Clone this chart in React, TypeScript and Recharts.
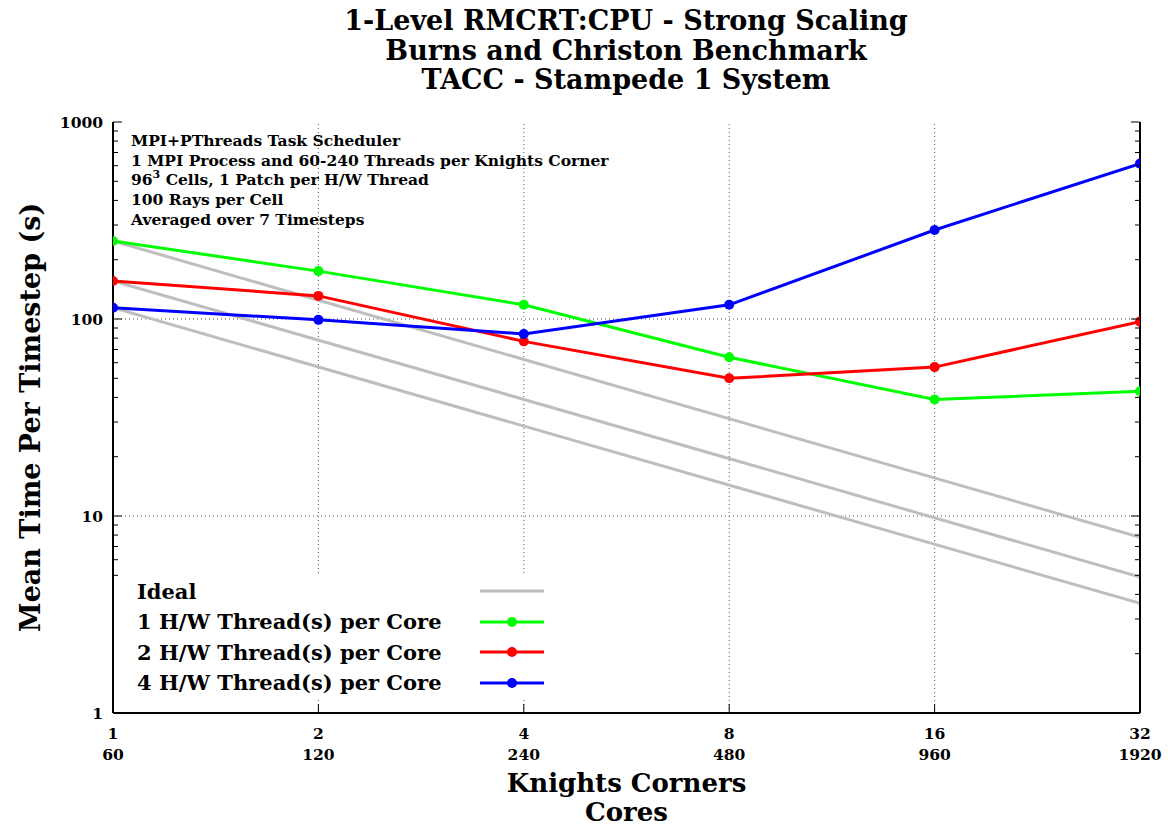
import { LineChart, Line, XAxis, YAxis, ReferenceLine, Legend } from "recharts";

const knights = [1, 2, 4, 8, 16, 32];
const cores = [60, 120, 240, 480, 960, 1920];
const oneThread = [249, 175, 118, 64, 39, 43];
const twoThreads = [156, 131, 77, 50, 57, 97];
const fourThreads = [114, 99, 84, 118, 283, 615];

// ideal scaling lines, read at both ends
const idealEnds = [1, 32];
const idealOne = [249, 7.8];
const idealTwo = [156, 4.9];
const idealFour = [114, 3.6];

const yMajor = [1, 10, 100, 1000];
const yTicks = [
  1, 2, 3, 4, 5, 6, 7, 8, 9, 10, 20, 30, 40, 50, 60, 70, 80, 90, 100, 200,
  300, 400, 500, 600, 700, 800, 900, 1000,
];
const gridX = [2, 4, 8, 16];
const gridY = [10, 100];
const legendOrder = [
  "Ideal",
  "1 H/W Thread(s) per Core",
  "2 H/W Thread(s) per Core",
  "4 H/W Thread(s) per Core",
];

const FONT = "'DejaVu Serif', serif";

const rows = knights.map((k, i) => ({
  k,
  one: oneThread[i],
  two: twoThreads[i],
  four: fourThreads[i],
}));
const ideal = (vals: number[]) => idealEnds.map((k, i) => ({ k, v: vals[i] }));

const LeftTick = (p: any) => {
  const v = p.payload.value;
  const major = yMajor.includes(v);
  const ax = p.x + 10;
  return (
    <g>
      <line x1={ax} x2={ax + (major ? 9 : 5)} y1={p.y} y2={p.y} stroke="#000" />
      {major && (
        <text x={p.x} y={p.y + 6} textAnchor="end" fontFamily={FONT} fontWeight="bold" fontSize={15.5} fill="#000">
          {v}
        </text>
      )}
    </g>
  );
};

const RightTick = (p: any) => {
  const major = yMajor.includes(p.payload.value);
  return <line x1={p.x} x2={p.x - (major ? 9 : 5)} y1={p.y} y2={p.y} stroke="#000" />;
};

const BottomTick = (p: any) => {
  const v = p.payload.value;
  return (
    <g>
      <line x1={p.x} x2={p.x} y1={p.y} y2={p.y - 9} stroke="#000" />
      <text x={p.x} textAnchor="middle" fontFamily={FONT} fontWeight="bold" fontSize={15.5} fill="#000">
        <tspan x={p.x} y={p.y + 26}>{v}</tspan>
        <tspan x={p.x} y={p.y + 47}>{cores[knights.indexOf(v)]}</tspan>
      </text>
    </g>
  );
};

const TopTick = (p: any) => <line x1={p.x} x2={p.x} y1={p.y} y2={p.y + 9} stroke="#000" />;

const YTitle = (p: any) => {
  const { x, y, height } = p.viewBox;
  const cx = x + 30;
  const cy = y + height / 2;
  return (
    <text x={cx} y={cy} transform={`rotate(-90 ${cx} ${cy})`} textAnchor="middle" dominantBaseline="central" fontFamily={FONT} fontWeight="bold" fontSize={27} fill="#000">
      Mean Time Per Timestep (s)
    </text>
  );
};

const XTitle = (p: any) => {
  const { x, y, width } = p.viewBox;
  const cx = x + width / 2;
  return (
    <text textAnchor="middle" fontFamily={FONT} fontWeight="bold" fontSize={26} fill="#000">
      <tspan x={cx} y={y + 79}>Knights Corners</tspan>
      <tspan x={cx} y={y + 108}>Cores</tspan>
    </text>
  );
};

const LegendBox = (props: any) => {
  const items = legendOrder
    .map((n) => (props.payload || []).find((e: any) => e.value === n))
    .filter(Boolean);
  return (
    <div style={{ background: "#fff", width: 440, fontFamily: FONT, fontWeight: "bold", fontSize: 21 }}>
      {items.map((e: any) => (
        <div key={e.value} style={{ height: 30.5, display: "flex", alignItems: "center", position: "relative" }}>
          <span style={{ marginLeft: 23 }}>{e.value}</span>
          <svg width={64} height={14} style={{ position: "absolute", left: 366, top: 8 }}>
            <line x1={0} x2={64} y1={7} y2={7} stroke={e.color} strokeWidth={3} />
            {e.value !== "Ideal" && <circle cx={32} cy={7} r={5} fill={e.color} />}
          </svg>
        </div>
      ))}
    </div>
  );
};

export default function App() {
  return (
    <div style={{ position: "absolute", left: 0, top: 0, width: 1168, height: 826, background: "#fff" }}>
      <div style={{ position: "absolute", left: 276, width: 700, top: 6, textAlign: "center", fontFamily: FONT, fontWeight: "bold", fontSize: 27, lineHeight: "29.5px" }}>
        <div>1-Level RMCRT:CPU - Strong Scaling</div>
        <div>Burns and Christon Benchmark</div>
        <div>TACC - Stampede 1 System</div>
      </div>
      <LineChart width={1168} height={826} data={rows} margin={{ top: 122, right: 0, bottom: 0, left: 0 }}>
        {gridY.map((v) => (
          <ReferenceLine key={"gy" + v} yAxisId="left" y={v} stroke="#555" strokeDasharray="1 3" />
        ))}
        {gridX.map((v) => (
          <ReferenceLine key={"gx" + v} yAxisId="left" x={v} stroke="#555" strokeDasharray="1 3" />
        ))}
        <XAxis dataKey="k" type="number" scale="log" domain={[1, 32]} ticks={knights} height={113} tickSize={0} tickMargin={0} tickLine={false} tick={BottomTick} axisLine={{ stroke: "#000", strokeWidth: 2 }} allowDataOverflow label={XTitle} />
        <XAxis xAxisId="top" orientation="top" dataKey="k" type="number" scale="log" domain={[1, 32]} ticks={knights} height={0} tickSize={0} tickMargin={0} tickLine={false} tick={TopTick} axisLine={{ stroke: "#000", strokeWidth: 2 }} allowDataOverflow />
        <YAxis yAxisId="left" type="number" scale="log" domain={[1, 1000]} ticks={yTicks} width={113} tickSize={0} tickMargin={10} tickLine={false} tick={LeftTick} interval={0} axisLine={{ stroke: "#000", strokeWidth: 2 }} allowDataOverflow label={YTitle} />
        <YAxis yAxisId="right" orientation="right" type="number" scale="log" domain={[1, 1000]} ticks={yTicks} width={28} tickSize={0} tickMargin={0} tickLine={false} tick={RightTick} interval={0} axisLine={{ stroke: "#000", strokeWidth: 2 }} allowDataOverflow />
        <Legend verticalAlign="middle" content={LegendBox} wrapperStyle={{ left: 114, top: 576, width: 440 }} />
        <Line yAxisId="left" data={ideal(idealOne)} dataKey="v" name="Ideal" stroke="#bebebe" strokeWidth={3} dot={false} isAnimationActive={false} />
        <Line yAxisId="left" data={ideal(idealTwo)} dataKey="v" name="Ideal (2)" legendType="none" stroke="#bebebe" strokeWidth={3} dot={false} isAnimationActive={false} />
        <Line yAxisId="left" data={ideal(idealFour)} dataKey="v" name="Ideal (4)" legendType="none" stroke="#bebebe" strokeWidth={3} dot={false} isAnimationActive={false} />
        <Line yAxisId="left" dataKey="one" name="1 H/W Thread(s) per Core" stroke="#00ff00" strokeWidth={3} dot={{ r: 5, fill: "#00ff00", strokeWidth: 0 }} isAnimationActive={false} />
        <Line yAxisId="left" dataKey="two" name="2 H/W Thread(s) per Core" stroke="#ff0000" strokeWidth={3} dot={{ r: 5, fill: "#ff0000", strokeWidth: 0 }} isAnimationActive={false} />
        <Line yAxisId="left" dataKey="four" name="4 H/W Thread(s) per Core" stroke="#0000ff" strokeWidth={3} dot={{ r: 5, fill: "#0000ff", strokeWidth: 0 }} isAnimationActive={false} />
      </LineChart>
      <div style={{ position: "absolute", left: 131, top: 131, fontFamily: FONT, fontWeight: "bold", fontSize: 15.5, lineHeight: "19.7px" }}>
        <div>MPI+PThreads Task Scheduler</div>
        <div>1 MPI Process and 60-240 Threads per Knights Corner</div>
        <div>
          96<sup style={{ fontSize: 11, verticalAlign: "7px", lineHeight: 0 }}>3</sup> Cells, 1 Patch per H/W Thread
        </div>
        <div>100 Rays per Cell</div>
        <div>Averaged over 7 Timesteps</div>
      </div>
    </div>
  );
}
